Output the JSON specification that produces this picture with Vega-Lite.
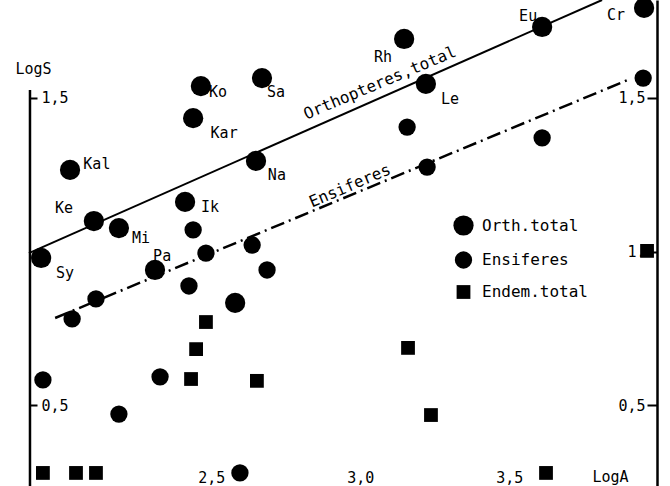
{
  "$schema": "https://vega.github.io/schema/vega-lite/v6.json",
  "width": 670,
  "height": 486,
  "autosize": "none",
  "padding": 0,
  "background": "white",
  "config": {
    "view": {"stroke": null},
    "font": "DejaVu Sans Mono",
    "axis": {"grid": false, "labelColor": "black", "tickColor": "black", "domainColor": "black", "titleColor": "black", "labelFont": "DejaVu Sans Mono", "titleFont": "DejaVu Sans Mono", "titleFontWeight": "normal"}
  },
  "datasets": {
    "points": [
      {"LogA": 1.929, "LogS": 0.979, "series": "Orth.total"},
      {"LogA": 2.106, "LogS": 1.099, "series": "Orth.total"},
      {"LogA": 2.190, "LogS": 1.076, "series": "Orth.total"},
      {"LogA": 2.026, "LogS": 1.265, "series": "Orth.total"},
      {"LogA": 2.412, "LogS": 1.161, "series": "Orth.total"},
      {"LogA": 2.311, "LogS": 0.940, "series": "Orth.total"},
      {"LogA": 2.439, "LogS": 1.433, "series": "Orth.total"},
      {"LogA": 2.465, "LogS": 1.537, "series": "Orth.total"},
      {"LogA": 2.670, "LogS": 1.563, "series": "Orth.total"},
      {"LogA": 2.650, "LogS": 1.294, "series": "Orth.total"},
      {"LogA": 3.147, "LogS": 1.690, "series": "Orth.total"},
      {"LogA": 3.220, "LogS": 1.544, "series": "Orth.total"},
      {"LogA": 3.610, "LogS": 1.729, "series": "Orth.total"},
      {"LogA": 3.952, "LogS": 1.791, "series": "Orth.total"},
      {"LogA": 2.580, "LogS": 0.833, "series": "Orth.total"},
      {"LogA": 1.935, "LogS": 0.583, "series": "Ensiferes"},
      {"LogA": 2.190, "LogS": 0.472, "series": "Ensiferes"},
      {"LogA": 2.328, "LogS": 0.593, "series": "Ensiferes"},
      {"LogA": 2.425, "LogS": 0.888, "series": "Ensiferes"},
      {"LogA": 2.033, "LogS": 0.781, "series": "Ensiferes"},
      {"LogA": 2.113, "LogS": 0.846, "series": "Ensiferes"},
      {"LogA": 2.482, "LogS": 0.995, "series": "Ensiferes"},
      {"LogA": 2.637, "LogS": 1.021, "series": "Ensiferes"},
      {"LogA": 2.687, "LogS": 0.940, "series": "Ensiferes"},
      {"LogA": 2.596, "LogS": 0.281, "series": "Ensiferes"},
      {"LogA": 2.439, "LogS": 1.070, "series": "Ensiferes"},
      {"LogA": 3.157, "LogS": 1.404, "series": "Ensiferes"},
      {"LogA": 3.610, "LogS": 1.369, "series": "Ensiferes"},
      {"LogA": 3.224, "LogS": 1.274, "series": "Ensiferes"},
      {"LogA": 3.949, "LogS": 1.563, "series": "Ensiferes"},
      {"LogA": 1.935, "LogS": 0.281, "series": "Endem.total"},
      {"LogA": 2.046, "LogS": 0.281, "series": "Endem.total"},
      {"LogA": 2.113, "LogS": 0.281, "series": "Endem.total"},
      {"LogA": 2.482, "LogS": 0.771, "series": "Endem.total"},
      {"LogA": 2.449, "LogS": 0.683, "series": "Endem.total"},
      {"LogA": 2.432, "LogS": 0.586, "series": "Endem.total"},
      {"LogA": 2.653, "LogS": 0.580, "series": "Endem.total"},
      {"LogA": 3.160, "LogS": 0.687, "series": "Endem.total"},
      {"LogA": 3.237, "LogS": 0.469, "series": "Endem.total"},
      {"LogA": 3.623, "LogS": 0.281, "series": "Endem.total"},
      {"LogA": 3.962, "LogS": 1.002, "series": "Endem.total"}
    ],
    "labels": [
      {"name": "Ko", "LogA": 2.5225, "LogS": 1.518},
      {"name": "Sa", "LogA": 2.717, "LogS": 1.518},
      {"name": "Kar", "LogA": 2.543, "LogS": 1.385},
      {"name": "Kal", "LogA": 2.116, "LogS": 1.284},
      {"name": "Ke", "LogA": 2.006, "LogS": 1.141},
      {"name": "Mi", "LogA": 2.264, "LogS": 1.044},
      {"name": "Ik", "LogA": 2.496, "LogS": 1.1445},
      {"name": "Na", "LogA": 2.720, "LogS": 1.248},
      {"name": "Sy", "LogA": 2.009, "LogS": 0.930},
      {"name": "Pa", "LogA": 2.335, "LogS": 0.985},
      {"name": "Rh", "LogA": 3.076, "LogS": 1.631},
      {"name": "Le", "LogA": 3.301, "LogS": 1.495},
      {"name": "Eu", "LogA": 3.563, "LogS": 1.765},
      {"name": "Cr", "LogA": 3.858, "LogS": 1.768}
    ],
    "fits": [
      {"fit": "Orth", "LogA": 1.888, "LogS": 0.995},
      {"fit": "Orth", "LogA": 3.811, "LogS": 1.8166},
      {"fit": "Ens", "LogA": 1.976, "LogS": 0.784},
      {"fit": "Ens", "LogA": 3.905, "LogS": 1.560}
    ]
  },
  "layer": [
    {
      "data": {"values": [{}]},
      "mark": {"type": "rule", "color": "black", "strokeWidth": 2.5},
      "encoding": {
        "x": {"datum": 1.8916, "type": "quantitative", "scale": {"domain": [1.791, 4.039], "nice": false, "zero": false}},
        "y": {"datum": 0.2386, "type": "quantitative", "scale": {"domain": [0.2386, 1.8166], "nice": false, "zero": false}, "axis": null},
        "y2": {"datum": 1.524}
      }
    },
    {
      "data": {"name": "fits"},
      "transform": [{"filter": "datum.fit === 'Orth'"}],
      "mark": {"type": "line", "color": "black", "strokeWidth": 2},
      "encoding": {
        "x": {"field": "LogA", "type": "quantitative", "scale": {"domain": [1.791, 4.039], "nice": false, "zero": false}},
        "y": {"field": "LogS", "type": "quantitative", "scale": {"domain": [0.2386, 1.8166], "nice": false, "zero": false}, "axis": null}
      }
    },
    {
      "data": {"name": "fits"},
      "transform": [{"filter": "datum.fit === 'Ens'"}],
      "mark": {"type": "line", "color": "black", "strokeWidth": 2.5, "strokeDash": [14, 5, 2, 5]},
      "encoding": {
        "x": {"field": "LogA", "type": "quantitative", "scale": {"domain": [1.791, 4.039], "nice": false, "zero": false}},
        "y": {"field": "LogS", "type": "quantitative", "scale": {"domain": [0.2386, 1.8166], "nice": false, "zero": false}, "axis": null}
      }
    },
    {
      "data": {"name": "points"},
      "mark": {"type": "point", "filled": true, "color": "black", "opacity": 1},
      "encoding": {
        "x": {"field": "LogA", "type": "quantitative", "scale": {"domain": [1.791, 4.039], "nice": false, "zero": false},
          "axis": {"orient": "bottom", "offset": -17, "values": [2.5, 3.0, 3.5], "labelExpr": "replace(format(datum.value, '.1f'), '.', ',')", "domain": false, "ticks": false, "labelPadding": 1, "labelFontSize": 15, "labelBaseline": "top", "title": "LogA", "titleFontSize": 15, "titleX": 610, "titleY": 7, "titleAlign": "center", "titleBaseline": "middle", "titleAngle": 0}},
        "y": {"field": "LogS", "type": "quantitative", "scale": {"domain": [0.2386, 1.8166], "nice": false, "zero": false},
          "axis": {"orient": "right", "offset": -640, "values": [0.5, 1.5], "labelExpr": "replace(format(datum.value, '.1f'), '.', ',')", "domain": false, "tickSize": 7, "tickWidth": 2, "labelPadding": 4, "labelFontSize": 15, "labelBaseline": "middle", "title": "LogS", "titleFontSize": 15, "titleAngle": 0, "titleX": 3, "titleY": 68, "titleAlign": "center", "titleBaseline": "middle"}},
        "shape": {"field": "series", "type": "nominal", "scale": {"domain": ["Orth.total", "Ensiferes", "Endem.total"], "range": ["circle", "circle", "square"]},
          "legend": {"orient": "none", "legendX": 453, "legendY": 215, "title": null, "padding": 0, "labelFont": "DejaVu Sans Mono", "labelFontSize": 16, "labelColor": "black", "rowPadding": 15, "labelOffset": 8, "symbolFillColor": "black", "symbolStrokeWidth": 0}},
        "size": {"field": "series", "type": "nominal", "scale": {"domain": ["Orth.total", "Ensiferes", "Endem.total"], "range": [410, 190, 240]},
          "legend": {"orient": "none", "legendX": 453, "legendY": 215, "title": null, "padding": 0, "labelFont": "DejaVu Sans Mono", "labelFontSize": 16, "labelColor": "black", "rowPadding": 15, "labelOffset": 8, "symbolFillColor": "black", "symbolStrokeWidth": 0}}
      }
    },
    {
      "data": {"name": "points"},
      "transform": [{"filter": "datum.LogA > 10"}],
      "mark": {"type": "point", "filled": true, "color": "black"},
      "encoding": {
        "x": {"field": "LogA", "type": "quantitative", "scale": {"domain": [1.791, 4.039], "nice": false, "zero": false}},
        "y": {"field": "LogS", "type": "quantitative", "scale": {"domain": [0.2386, 1.8166], "nice": false, "zero": false},
          "axis": {"orient": "left", "offset": -657, "values": [0.5, 1.0, 1.5], "labelExpr": "datum.value == 1 ? '1.' : replace(format(datum.value, '.1f'), '.', ',')", "domain": true, "domainWidth": 2.5, "tickSize": 10, "tickWidth": 2, "labelPadding": 2, "labelFontSize": 15, "labelBaseline": "middle", "title": null}}
      }
    },
    {
      "data": {"name": "labels"},
      "mark": {"type": "text", "font": "DejaVu Sans Mono", "fontSize": 15, "color": "black", "align": "center", "baseline": "middle"},
      "encoding": {
        "x": {"field": "LogA", "type": "quantitative", "scale": {"domain": [1.791, 4.039], "nice": false, "zero": false}},
        "y": {"field": "LogS", "type": "quantitative", "scale": {"domain": [0.2386, 1.8166], "nice": false, "zero": false}, "axis": null},
        "text": {"field": "name"}
      }
    },
    {
      "data": {"values": [{"label": "Orthopteres,total", "LogA": 3.066, "LogS": 1.547}]},
      "mark": {"type": "text", "font": "DejaVu Sans Mono", "fontSize": 16, "color": "black", "align": "center", "baseline": "middle", "angle": 337},
      "encoding": {
        "x": {"field": "LogA", "type": "quantitative", "scale": {"domain": [1.791, 4.039], "nice": false, "zero": false}},
        "y": {"field": "LogS", "type": "quantitative", "scale": {"domain": [0.2386, 1.8166], "nice": false, "zero": false}, "axis": null},
        "text": {"field": "label"}
      }
    },
    {
      "data": {"values": [{"label": "Ensiferes", "LogA": 2.965, "LogS": 1.213}]},
      "mark": {"type": "text", "font": "DejaVu Sans Mono", "fontSize": 16, "color": "black", "align": "center", "baseline": "middle", "angle": 337},
      "encoding": {
        "x": {"field": "LogA", "type": "quantitative", "scale": {"domain": [1.791, 4.039], "nice": false, "zero": false}},
        "y": {"field": "LogS", "type": "quantitative", "scale": {"domain": [0.2386, 1.8166], "nice": false, "zero": false}, "axis": null},
        "text": {"field": "label"}
      }
    }
  ],
  "resolve": {"axis": {"y": "independent"}}
}
